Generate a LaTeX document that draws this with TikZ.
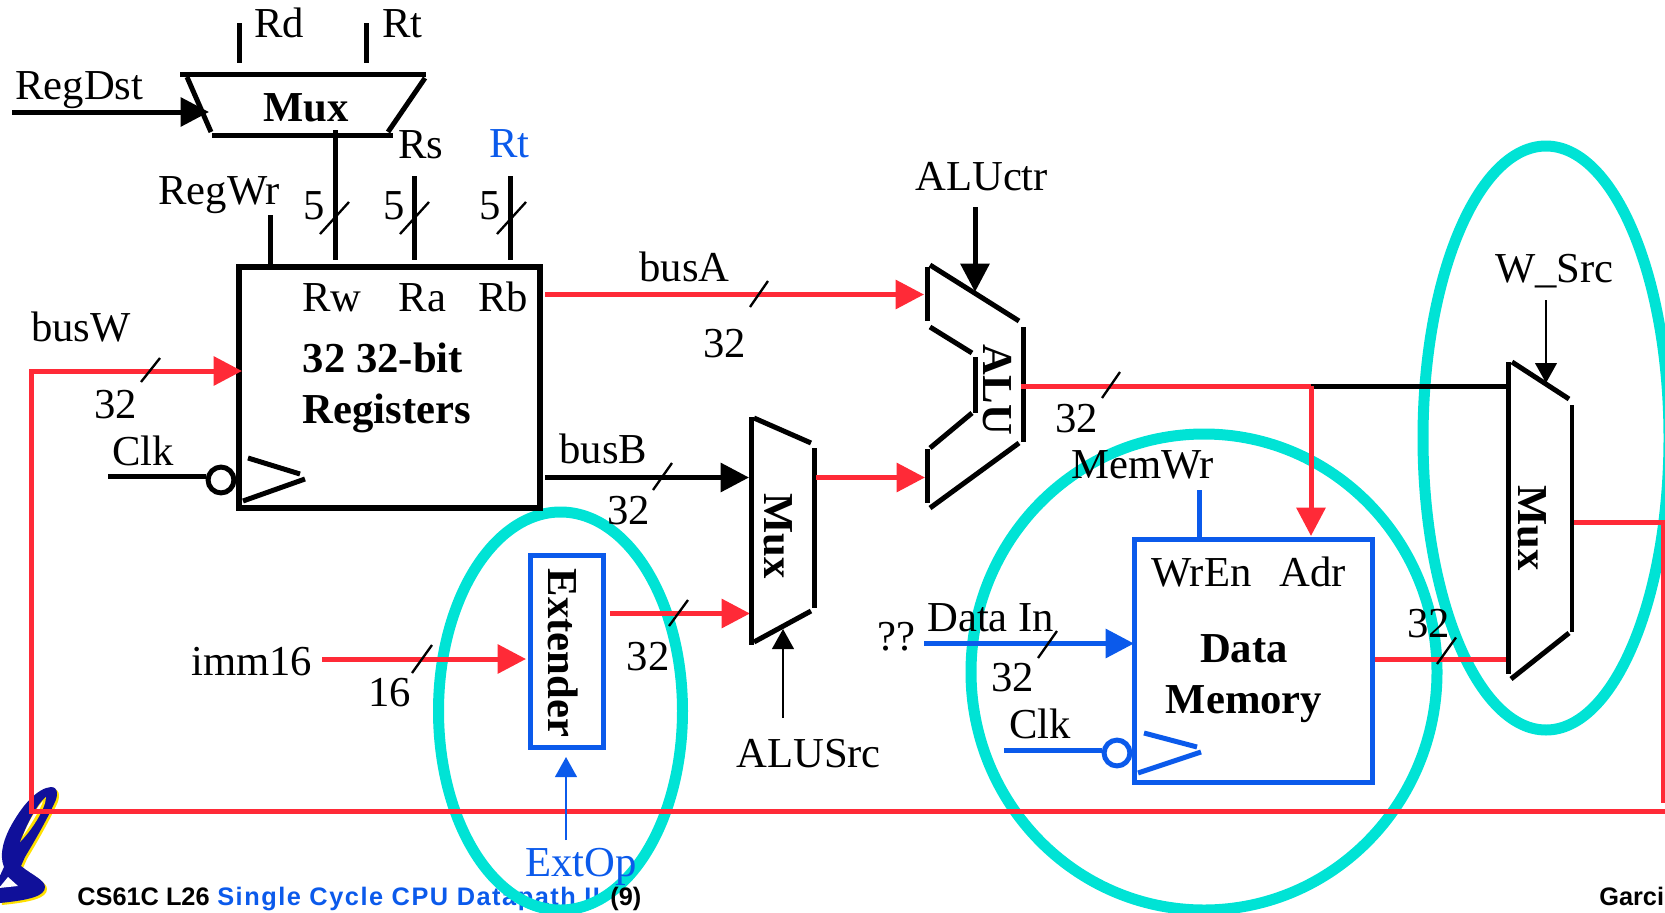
\documentclass[tikz,border=0pt]{standalone}
\usepackage{fontspec}
\setmainfont{Liberation Serif}
\newfontfamily\footfont{Liberation Sans}
\newfontfamily\titlefont[LetterSpace=6]{Liberation Sans}
\usetikzlibrary{arrows.meta}
\definecolor{busred}{HTML}{FF2A37}
\definecolor{ctlblue}{HTML}{0B5AEB}
\definecolor{ringteal}{HTML}{00E3D5}
\definecolor{calblue}{HTML}{10109A}
\definecolor{calgold}{HTML}{FFE000}
\newcommand{\bigtext}{\fontsize{25.6}{30}\selectfont}
\newcommand{\calshape}{(51,787) .. controls (59,787) and (58,797) .. (54,804) .. controls (49,815) and (40,832) .. (25,857)
  -- (21,866) .. controls (32,875) and (45,880) .. (45,887) .. controls (45,896) and (30,900) .. (0,903)
  -- (-2,880) -- (4,867) .. controls (-1,855) and (3,838) .. (15,819) .. controls (24,804) and (38,788) .. (51,787) -- cycle}
\tikzset{
  wire/.style={line width=3pt},
  rwire/.style={wire,busred},
  bwire/.style={wire,ctlblue},
  nyil/.style={-{Triangle[length=17pt,width=17pt]}},
  vnyil/.style={line width=1.3pt,-{Triangle[length=12pt,width=13pt]}},
  slash/.style={line width=1.4pt},
  ring/.style={draw=ringteal,line width=6.6pt},
  lab/.style={anchor=base west,inner sep=0pt,font=\bigtext},
  blab/.style={lab,font=\bigtext\bfseries},
  rlab/.style={inner sep=0pt,font=\bigtext\bfseries,rotate=-90},
  foot/.style={anchor=base west,inner sep=0pt,font=\footfont\bfseries\fontsize{15.2}{18}\selectfont},
  regbox/.style={draw,line width=3.2pt,inner sep=0pt},
  membox/.style={draw=ctlblue,line width=2.9pt,inner sep=0pt},
  bubble/.style={circle,draw,fill=white,line width=3pt,inner sep=0pt,minimum size=15.5pt},
}
\begin{document}
\begin{tikzpicture}[x=0.6pt,y=-0.6pt]
  \useasboundingbox (0,0) rectangle (1665,913);
  % logo
  \fill[calgold,shift={(2,2)}] \calshape;
  \fill[calblue] \calshape;
  \fill[calgold] (20,842) .. controls (28,822) and (38,803) .. (46,797) .. controls (46,808) and (32,830) .. (20,842) -- cycle;
  \fill[white] (23,836) .. controls (28,822) and (38,806) .. (43,801) .. controls (41,808) and (30,826) .. (23,836) -- cycle;
  \fill[white] (-1,888) -- (8,877) -- (18,886) -- cycle;
  % footer
  \node[foot] (course) at (77,905) {CS61C L26};
  \node[foot,ctlblue,font=\titlefont\bfseries\fontsize{15.2}{18}\selectfont] (title) at (217,905) {Single Cycle CPU Datapath II};
  \node[foot] (name) at (1599,905) {Garci};
  % rings
  \draw[ring] (1546,438) ellipse (123 and 292);
  \draw[ring] (1204,672) ellipse (233 and 238);
  \draw[ring] (560.5,711) ellipse (122 and 199);
  \node[foot] (page) at (610,905) {(9)};

  % register mux
  \draw[wire] (180,74) -- (425.7,74);
  \draw[wire] (187,77) -- (211,132);
  \draw[wire] (212,135) -- (393,135);
  \draw[wire] (425,78) -- (388,132);
  \node[blab,anchor=center] (dstmux) at (306,108) {Mux};
  \coordinate (rdtop) at (239,23); \coordinate (rdend) at (239,63);
  \coordinate (rttop) at (366.6,23); \coordinate (rtend) at (366.6,63);
  \draw[wire] (rdtop) -- (rdend);
  \draw[wire] (rttop) -- (rtend);
  \node[lab] (rdlab) at (254,37) {Rd};
  \node[lab] (rtlab) at (382,37) {Rt};
  \node[lab] (dstlab) at (15,99) {RegDst};
  \coordinate (dststart) at (12,112); \coordinate (dstend) at (209,112);
  \draw[wire,nyil] (dststart) -- (dstend);

  % registers
  \node[regbox,minimum width=180.6pt,minimum height=144.6pt] (regs) at (389.5,387.5) {};
  \node[lab] (rwlab) at (302,311) {Rw};
  \node[lab] (ralab) at (398.5,311) {Ra};
  \node[lab] (rblab) at (478,311) {Rb};
  \node[blab] (reglabA) at (302.5,372) {32 32-bit};
  \node[blab] (reglabB) at (302.5,423) {Registers};
  \coordinate (wrtop) at (270.5,215); \coordinate (wrend) at (270.5,266);
  \coordinate (rwtop) at (335,130); \coordinate (rwend) at (335,260);
  \coordinate (ratop) at (414.5,176); \coordinate (raend) at (414.5,260);
  \coordinate (rbtop) at (510.5,176); \coordinate (rbend) at (510.5,260);
  \draw[wire] (wrtop) -- (wrend);
  \draw[wire] (rwtop) -- (rwend);
  \draw[wire] (ratop) -- (raend);
  \draw[wire] (rbtop) -- (rbend);
  \node[lab] (wrlab) at (158,204) {RegWr};
  \node[lab] (rslab) at (398,158) {Rs};
  \node[lab,ctlblue] (rtblue) at (489,157) {Rt};
  \foreach \x/\s in {303/320,383/400,479/497} {
    \node[lab] at (\x,219) {5};
    \draw[slash] (\s,234) -- ++(29,-32);
  }
  % clock of the registers
  \node[lab] (clklab) at (112,465) {Clk};
  \node[bubble] (regclk) at (221,480) {};
  \coordinate (clkstart) at (108,476.5);
  \draw[wire] (clkstart) -- (clkstart -| regclk.west);
  \draw[wire] (248,458) -- (300,474);
  \draw[wire] (305,479) -- (243,501);

  % busW
  \node[lab] (wlab) at (31,341) {busW};
  \node[lab] (wbits) at (94,418) {32};
  \coordinate (loopr) at (1663,522); \coordinate (loopq) at (1663,803);
  \coordinate (loopa) at (1665,811); \coordinate (loopb) at (31,811); \coordinate (loopc) at (31,371);
  \coordinate (loopd) at (242,371); \coordinate (muxout) at (1572,522);
  \draw[rwire] (muxout) -- (loopr) -- (loopq);
  \draw[rwire,nyil] (loopa) -- (loopb) -- (loopc) -- (loopd);
  \draw[slash] (141,382) -- (160,358);

  % busA, busB
  \node[lab] (alab) at (639,281) {busA};
  \node[lab] (abits) at (703,357) {32};
  \coordinate (astart) at (545,294.5); \coordinate (aend) at (924,294.5);
  \draw[rwire,nyil] (astart) -- (aend);
  \draw[slash] (750,307) -- (768,281);
  \node[lab] (blabel) at (559,463) {busB};
  \node[lab] (bbits) at (607,524) {32};
  \coordinate (bstart) at (545,477.5); \coordinate (bend) at (749,477.5);
  \draw[wire,nyil] (bstart) -- (bend);
  \draw[slash] (653,490) -- (672,463);

  % extender
  \node[membox,minimum width=44pt,minimum height=115pt] (ext) at (567,651.5) {};
  \node[rlab] (extlab) at (563,653) {Extender};
  \node[lab] (immlab) at (191,675) {imm16};
  \node[lab] (immbits) at (368,706) {16};
  \coordinate (immstart) at (322,659); \coordinate (immend) at (526,659);
  \draw[rwire,nyil] (immstart) -- (immend);
  \draw[slash] (412,673) -- (432,645);
  \node[lab] (extbits) at (626.5,670) {32};
  \coordinate (exstart) at (610,613.5); \coordinate (exend) at (750,613.5);
  \draw[rwire,nyil] (exstart) -- (exend);
  \draw[slash] (669,626) -- (688,600);
  \node[lab,ctlblue] (oplab) at (525,876.5) {ExtOp};
  \coordinate (opstart) at (566,840); \coordinate (opend) at (566,757);
  \draw[vnyil,ctlblue] (opstart) -- (opend);

  % ALUSrc mux
  \draw[wire] (751,417) -- (751,645);
  \draw[wire] (754,418) -- (811,443);
  \draw[wire] (814,448) -- (814,608);
  \draw[wire] (811,611) -- (754,642);
  \node[rlab] (srcmux) at (778,536) {Mux};
  \node[lab] (srclab) at (736,767) {ALUSrc};
  \coordinate (srcstart) at (783,718); \coordinate (srcend) at (783,629);
  \draw[vnyil] (srcstart) -- (srcend);
  \coordinate (mstart) at (816,477.5); \coordinate (mend) at (925,477.5);
  \draw[rwire,nyil] (mstart) -- (mend);

  % ALU
  \draw[wire] (927,267) -- (927,321);
  \draw[wire] (930,265) -- (1019,321);
  \draw[wire] (1023,327) -- (1023,442);
  \draw[wire] (1019,443) -- (930,508);
  \draw[wire] (927,449) -- (927,503);
  \draw[wire] (930,327) -- (972,353);
  \draw[wire] (975,357) -- (975,413);
  \draw[wire] (972,413) -- (930,448);
  \node[rlab] (alu) at (997,390) {ALU};
  \node[lab] (ctrlab) at (915,190) {ALUctr};
  \coordinate (ctrstart) at (975,207); \coordinate (ctrend) at (975,292);
  \draw[wire,nyil] (ctrstart) -- (ctrend);
  \coordinate (alustart) at (1021,386); \coordinate (alutee) at (1311,386);
  \coordinate (adrend) at (1311,536); \coordinate (wmuxup) at (1506,386);
  \draw[wire] (alutee) -- (wmuxup);
  \draw[rwire] (alustart) -- (alutee);
  \draw[rwire,nyil] (alutee) -- (adrend);
  \draw[slash] (1102,398) -- (1120,372);
  \node[lab] (alubits) at (1055,432) {32};

  % data memory
  \node[membox,minimum width=142.6pt,minimum height=145.5pt] (mem) at (1253.5,661) {};
  \node[lab] (wrenlab) at (1151,586) {WrEn};
  \node[lab] (adrlab) at (1279,586) {Adr};
  \node[blab,anchor=base] (memA) at (1244,662) {Data};
  \node[blab,anchor=base] (memB) at (1244,713) {Memory};
  \node[lab] (memwr) at (1071,478) {MemWr};
  \coordinate (wrstart) at (1199,490); \coordinate (wrfin) at (1199,538);
  \draw[bwire] (wrstart) -- (wrfin);
  \node[lab] (inlab) at (927,631) {Data In};
  \node[lab] (qlab) at (877,650) {??};
  \node[lab] (inbits) at (991,691) {32};
  \coordinate (instart) at (924,643.5); \coordinate (inend) at (1134,643.5);
  \draw[bwire,nyil] (instart) -- (inend);
  \draw[slash] (1038,658) -- (1057,631);
  \node[lab] (clkmem) at (1009,738) {Clk};
  \node[bubble,draw=ctlblue] (memclk) at (1117,753) {};
  \coordinate (mclkstart) at (1004,750);
  \draw[bwire] (mclkstart) -- (mclkstart -| memclk.west);
  \draw[bwire] (1144,733) -- (1197,747);
  \draw[bwire] (1201,752) -- (1138,773);
  \coordinate (outstart) at (1375,659); \coordinate (outend) at (1506,659);
  \draw[rwire] (outstart) -- (outend);
  \draw[slash] (1437,664) -- (1456,637.5);
  \node[lab] (outbits) at (1407,637) {32};

  % W_Src mux
  \draw[wire] (1508,362) -- (1508,674);
  \draw[wire] (1512,362) -- (1569,399);
  \draw[wire,line width=2.6pt] (1572,405) -- (1572,632);
  \draw[wire] (1569,633) -- (1511,679);
  \node[rlab] (wmux) at (1532,528) {Mux};
  \node[lab] (wsrclab) at (1495,282) {W\_Src};
  \coordinate (wsstart) at (1546,300); \coordinate (wsend) at (1546,383);
  \draw[vnyil] (wsstart) -- (wsend);
\end{tikzpicture}
\end{document}
